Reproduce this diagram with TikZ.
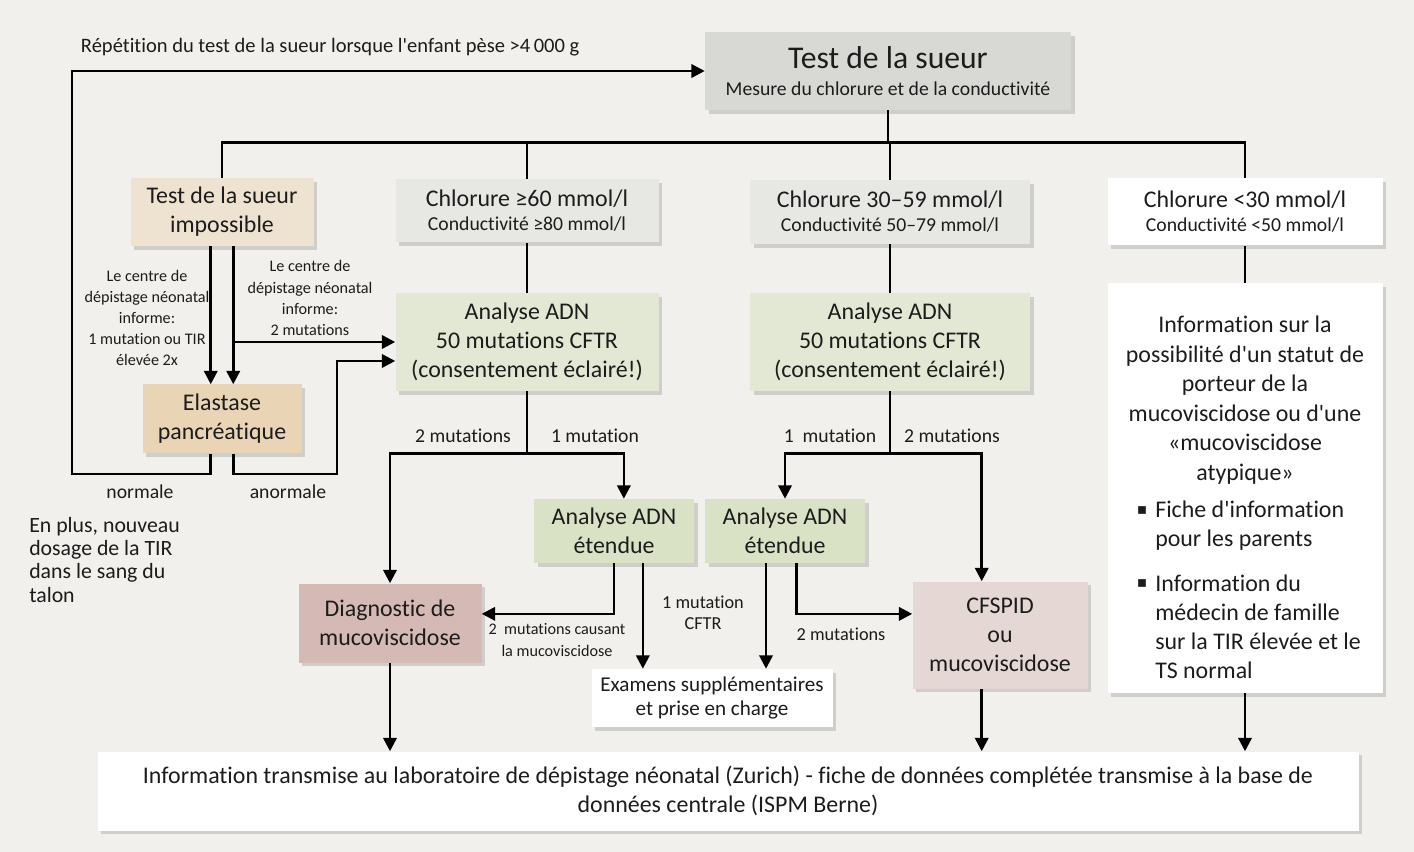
\documentclass[tikz,border=0pt]{standalone}
\usepackage{fontspec}
\setmainfont{Carlito}[Ligatures=NoCommon]
\newfontfamily\symfont{DejaVu Sans}
\usetikzlibrary{arrows.meta,shadows,calc}
\definecolor{bgcol}{HTML}{F1F0EC}
\definecolor{testcol}{HTML}{D8D8D4}
\definecolor{impcol}{HTML}{EEE3D0}
\definecolor{elacol}{HTML}{E9D4B6}
\definecolor{chlcol}{HTML}{E7E7E3}
\definecolor{adncol}{HTML}{E2E8D3}
\definecolor{extcol}{HTML}{DAE2C6}
\definecolor{diagcol}{HTML}{D5B9B4}
\definecolor{cfcol}{HTML}{E5D8D4}
\definecolor{txtcol}{HTML}{1C1C1C}
\newcommand{\fbig}{\fontsize{17}{20.5}\selectfont}
\newcommand{\fmid}{\fontsize{14}{17}\selectfont}
\newcommand{\fsma}{\fontsize{13}{15}\selectfont}
\newcommand{\ftiny}{\fontsize{11.5}{15}\selectfont}
\newcommand{\q}{\textquotesingle}

\begin{document}
\begin{tikzpicture}[x=0.025cm,y=-0.025cm,text=txtcol,
  box/.style 2 args={align=center,inner sep=0pt,minimum width=#1*0.025cm,minimum height=#2*0.025cm,
    drop shadow={shadow xshift=2.5pt,shadow yshift=-2.5pt,opacity=0.3}},
  ln/.style={line width=1.8pt},
  arr/.style={ln,-{Triangle[length=9.5pt,width=9.5pt]}}]
%background
\fill[bgcol] (0,0) rectangle (1414,852);
%boxes
\node[box={366}{78},fill=testcol] (test) at (888,71) {{\fontsize{22.5}{26}\selectfont Test de la sueur}\\[7pt]{\fmid Mesure du chlorure et de la conductivité}};
\node[box={183}{68},fill=impcol,font=\fbig] (imposs) at (222,212) {Test de la sueur\\impossible};
\node[box={263}{63},fill=chlcol] (chl1) at (527,211) {{\fbig Chlorure ≥60 mmol/l}\\[5pt]{\fmid Conductivité ≥80 mmol/l}};
\node[box={280}{64},fill=chlcol] (chl2) at (890,212) {{\fbig Chlorure 30–59 mmol/l}\\[5pt]{\fmid Conductivité 50–79 mmol/l}};
\node[box={275}{67},fill=white] (chl3) at (1245,212) {{\fbig Chlorure <30 mmol/l}\\[5pt]{\fmid Conductivité <50 mmol/l}};
\node[box={263}{98},fill=adncol,font=\fbig] (adn1) at (527,342) {Analyse ADN\\50 mutations CFTR\\(consentement éclairé!)};
\node[box={280}{98},fill=adncol,font=\fbig] (adn2) at (890,342) {Analyse ADN\\50 mutations CFTR\\(consentement éclairé!)};
\node[box={275}{410},fill=white] (info) at (1245,488) {};
\node[box={159}{69},fill=elacol,font=\fbig] (elast) at (222,419) {Elastase\\pancréatique};
\node[box={160}{64},fill=extcol,font=\fbig] (ext1) at (614,531) {Analyse ADN\\étendue};
\node[box={160}{64},fill=extcol,font=\fbig] (ext2) at (785,531) {Analyse ADN\\étendue};
\node[box={183}{79},fill=diagcol,font=\fbig] (diag) at (390,623) {Diagnostic de\\mucoviscidose};
\node[box={175}{107},fill=cfcol,font=\fbig] (cfspid) at (1000,635) {CFSPID\\ou\\mucoviscidose};
\node[box={241}{58},fill=white,font=\fontsize{15}{17}\selectfont] (exam) at (712,698) {Examens supplémentaires\\et prise en charge};
\node[box={1261}{79},fill=white,font=\fbig] (bottom) at (728,791) {Information transmise au laboratoire de dépistage néonatal (Zurich) - fiche de données complétée transmise à la base de\\données centrale (ISPM Berne)};
%texts in the info box
\node[font=\fontsize{17}{21}\selectfont,align=center] (infotxt) at (1245,400) {Information sur la\\possibilité d\q un statut de\\porteur de la\\mucoviscidose ou d\q une\\«mucoviscidose\\atypique»};
\node[font=\fbig,align=left,anchor=west,inner sep=0pt] (item1) at (1155,526) {Fiche d\q information\\pour les parents};
\node[font=\fbig,align=left,anchor=west,inner sep=0pt] (item2) at (1155,627) {Information du\\médecin de famille\\sur la TIR élevée et le\\TS normal};
\node[font=\symfont\fontsize{11}{11}\selectfont] (dot1) at (1142,511) {▪};
\node[font=\symfont\fontsize{11}{11}\selectfont] (dot2) at (1142,584) {▪};
%free texts
\node[font=\fontsize{14.6}{17}\selectfont,anchor=west] (rep) at (76,47) {Répétition du test de la sueur lorsque l\q enfant pèse >4\,000 g};
\node[font=\ftiny,align=center] (note1) at (147,318) {Le centre de\\dépistage néonatal\\informe:\\1 mutation ou TIR\\élevée 2x};
\node[font=\ftiny,align=center] (note2) at (310,298) {Le centre de\\dépistage néonatal\\informe:\\2 mutations};
\node[font=\fmid] (lnorm) at (140,492) {normale};
\node[font=\fmid] (lanorm) at (288,492) {anormale};
\node[font=\fontsize{15.5}{16.5}\selectfont,align=left,anchor=north west,inner sep=0pt] (extra) at (29,517) {En plus, nouveau\\dosage de la TIR\\dans le sang du\\talon};
\node[font=\fmid] (m2a) at (463,436) {2 mutations};
\node[font=\fmid] (m1a) at (595,436) {1 mutation};
\node[font=\fmid] (m1b) at (830,436) {1~ mutation};
\node[font=\fmid] (m2b) at (952,436) {2 mutations};
\node[font=\ftiny,align=center] (cause) at (557,640) {2~ mutations causant\\la mucoviscidose};
\node[font=\fsma,align=center] (cftr) at (703,613) {1 mutation\\CFTR};
\node[font=\fsma] (m2c) at (841,634) {2 mutations};
%top bus
\draw[ln] (test.south) -- ++(0,32) coordinate (bus);
\foreach \n in {imposs,chl1,chl2,chl3}
  \draw[ln] (\n.north) |- (bus);
\draw[ln] (chl1.south) -- (adn1.north);
\draw[ln] (chl2.south) -- (adn2.north);
\draw[ln] (chl3.south) -- (info.north);
%sweat test impossible
\coordinate (il) at ([xshift=-8pt]imposs.south);
\coordinate (ir) at ([xshift=8pt]imposs.south);
\draw[arr] (il) -- (il |- elast.north);
\draw[arr] (ir) -- (ir |- elast.north);
\draw[arr] (ir |- adn1.west) -- (adn1.west);
\coordinate (el) at ([xshift=-8pt]elast.south);
\coordinate (er) at ([xshift=8pt]elast.south);
\draw[arr] (el) |- (72,474) |- (test.west);
\draw[arr] (er) |- (337,474) |- ([yshift=-13.5pt]adn1.west);
%DNA results
\draw[ln] (adn1.south) -- ++(0,62) coordinate (b1);
\draw[arr] (b1) -| (diag.north);
\draw[arr] (b1) -| ([xshift=7pt]ext1.north);
\draw[ln] (adn2.south) -- ++(0,62) coordinate (b2);
\draw[arr] (b2) -| (ext2.north);
\draw[arr] (b2) -| ([xshift=-13pt]cfspid.north);
%extended analysis
\coordinate (e1r) at ([xshift=20.5pt]ext1.south);
\coordinate (e2l) at ([xshift=-13.5pt]ext2.south);
\draw[arr] (ext1.south) |- ([yshift=6.5pt]diag.east);
\draw[arr] (e1r) -- (e1r |- exam.north);
\draw[arr] (e2l) -- (e2l |- exam.north);
\draw[arr] ([xshift=8pt]ext2.south) |- ([yshift=15pt]cfspid.west);
%to the bottom box
\draw[arr] (diag.south) -- (diag.south |- bottom.north);
\coordinate (cfb) at ([xshift=-13pt]cfspid.south);
\draw[arr] (cfb) -- (cfb |- bottom.north);
\draw[arr] (info.south) -- (info.south |- bottom.north);
\end{tikzpicture}
\end{document}
